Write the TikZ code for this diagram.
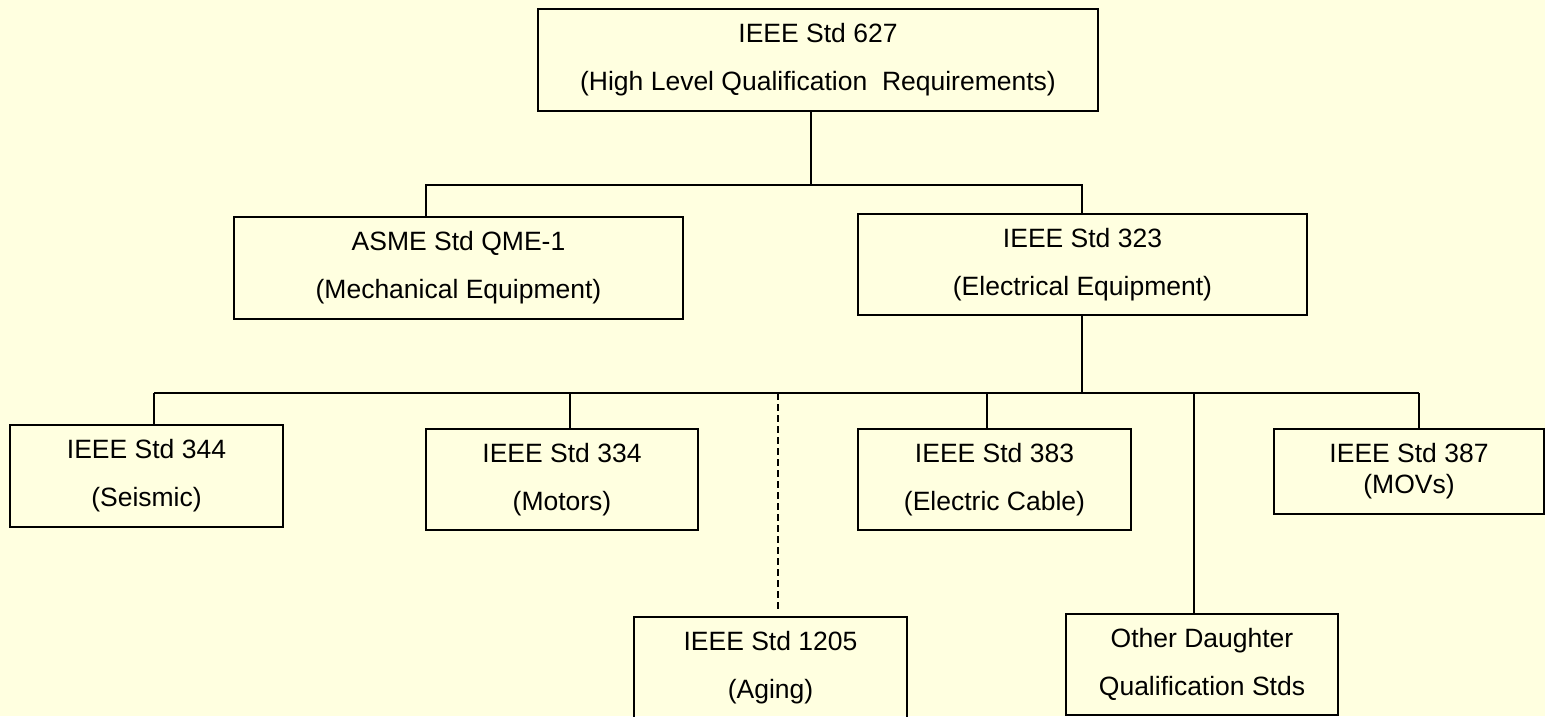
\documentclass[tikz,border=0pt]{standalone}
\usepackage{fontspec}
\setmainfont{Liberation Sans}
\usepackage{tikz}
\usetikzlibrary{positioning, calc}
\definecolor{paper}{RGB}{255,255,224}

\begin{document}
\begin{tikzpicture}[
  x=1pt, y=-1pt,
  font=\fontsize{26.5}{48}\selectfont,
  box/.style={draw, line width=1.3pt, align=center, inner sep=0pt},
  link/.style={line width=1.3pt},
  aglink/.style={link, dash pattern=on 7pt off 4pt},
]
\fill[paper] (0,0) rectangle (1545,716);
\useasboundingbox (0,0) rectangle (1545,716);

\node[box, minimum width=560pt, minimum height=102pt] (top) at (818,60) {IEEE Std 627\\(High Level Qualification~ Requirements)};
\node[box, minimum width=449pt, minimum height=102pt] (asme) at (458.5,268) {ASME Std QME-1\\(Mechanical Equipment)};
\node[box, minimum width=449pt, minimum height=101pt] (e323) at (1082.5,264.5) {IEEE Std 323\\(Electrical Equipment)};
\node[box, minimum width=273pt, minimum height=102pt] (seis) at (146.5,476) {IEEE Std 344\\(Seismic)};
\node[box, minimum width=272pt, minimum height=101pt] (mot) at (562,479.5) {IEEE Std 334\\(Motors)};
\node[box, minimum width=273pt, minimum height=102pt] (aging) at (770.5,668) {IEEE Std 1205\\(Aging)};
\node[box, minimum width=273pt, minimum height=101pt] (cable) at (994.5,479.5) {IEEE Std 383\\(Electric Cable)};
\node[box, minimum width=272pt, minimum height=101pt] (other) at (1202,664.5) {Other Daughter\\Qualification Stds};
\node[box, minimum width=270pt, minimum height=85pt, font=\fontsize{26.5}{31}\selectfont] (movs) at (1409,471.5) {IEEE Std 387\\(MOVs)};

% upper level
\coordinate (j1) at (811,185);
\coordinate (j1l) at (426,185);
\coordinate (j1r) at (1082,185);
\draw[link] (top.south -| j1) -- (j1);
\draw[link] (j1l |- asme.north) -- (j1l) -- (j1r) -- (j1r |- e323.north);

% daughter standards
\coordinate (j2) at (1082,393);
\coordinate (dseis) at (154,393);
\coordinate (dmot) at (570,393);
\coordinate (daging) at (778,393);
\coordinate (dcable) at (987,393);
\coordinate (dother) at (1194,393);
\coordinate (dmovs) at (1419,393);
\draw[link] (j2 |- e323.south) -- (j2);
\draw[link] (dseis) -- (dmovs);
\foreach \n in {seis,mot,cable,other,movs}
  \draw[link] (d\n) -- (d\n |- \n.north);
\draw[aglink] (daging) -- ($(daging |- aging.north)+(0,-7)$);
\end{tikzpicture}
\end{document}
